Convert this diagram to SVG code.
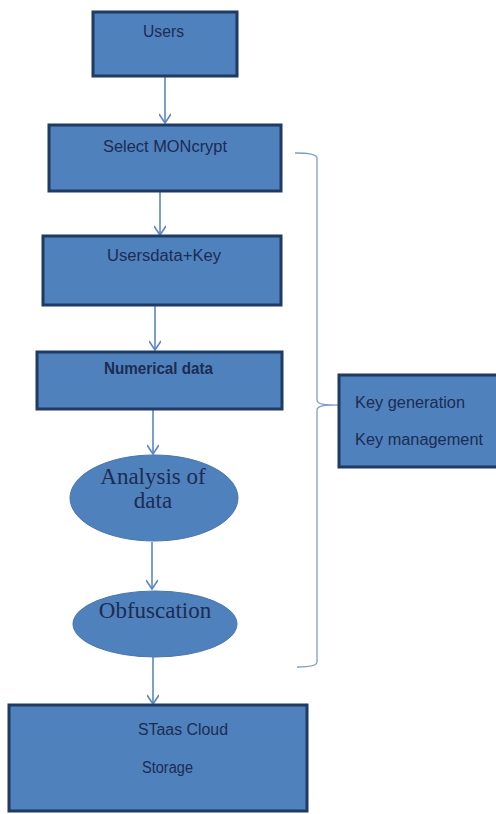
<svg xmlns="http://www.w3.org/2000/svg" width="496" height="814" viewBox="0 0 496 814">
<style>
.box{fill:#4f81bd;stroke:#1f3a63;stroke-width:3}
.ell{fill:#4f81bd;stroke:#4a76ad;stroke-width:1}
.t{font-family:"Liberation Sans",Arial,sans-serif;font-size:16px;fill:#1c2c52}
.s{font-family:"Liberation Serif","Times New Roman",serif;font-size:23px;fill:#1c2c52;text-anchor:middle}
.c{fill:none;stroke:#5b86c2;stroke-width:1.6}
.br{fill:none;stroke:#7f9cc7;stroke-width:1.3}
</style>
<defs>
<marker id="ah" markerWidth="14" markerHeight="12" refX="10" refY="6" orient="auto" markerUnits="userSpaceOnUse">
<path d="M1,0 L10,6 L1,12" fill="none" stroke="#5b86c2" stroke-width="1.6"/>
</marker>
</defs>
<g id="connectors">
<line class="c" x1="165" y1="77" x2="165" y2="123" marker-end="url(#ah)"/>
<line class="c" x1="160" y1="192" x2="160" y2="235" marker-end="url(#ah)"/>
<line class="c" x1="155" y1="306" x2="155" y2="350" marker-end="url(#ah)"/>
<line class="c" x1="153" y1="410" x2="153" y2="454" marker-end="url(#ah)"/>
<line class="c" x1="152" y1="542" x2="152" y2="589" marker-end="url(#ah)"/>
<line class="c" x1="153" y1="657" x2="153" y2="704" marker-end="url(#ah)"/>
<path class="br" d="M295,153 Q317,153 317,158 L317,400 Q317,405 333,405 Q317,405 317,410 L317,662 Q317,667 297,667"/>
<line class="br" x1="333" y1="405" x2="339" y2="405"/>
</g>
<g id="users">
<rect class="box" x="93" y="12" width="144" height="64"/>
<text class="t" x="143" y="37" textLength="41" lengthAdjust="spacingAndGlyphs">Users</text>
</g>
<g id="select">
<rect class="box" x="49" y="125" width="232" height="66"/>
<text class="t" x="103" y="152" textLength="124" lengthAdjust="spacingAndGlyphs">Select MONcrypt</text>
</g>
<g id="usersdata">
<rect class="box" x="43" y="236" width="238" height="69"/>
<text class="t" x="107" y="261" textLength="114" lengthAdjust="spacingAndGlyphs">Usersdata+Key</text>
</g>
<g id="numerical">
<rect class="box" x="37" y="352" width="245" height="57"/>
<text class="t" x="104" y="374" textLength="109" lengthAdjust="spacingAndGlyphs" font-weight="bold">Numerical data</text>
</g>
<g id="analysis">
<ellipse class="ell" cx="154" cy="498" rx="84" ry="43"/>
<text class="s" x="153" y="484">Analysis of</text>
<text class="s" x="153" y="508">data</text>
</g>
<g id="obfuscation">
<ellipse class="ell" cx="155" cy="624" rx="82" ry="33"/>
<text class="s" x="155" y="618">Obfuscation</text>
</g>
<g id="staas">
<rect class="box" x="9" y="705" width="298" height="106"/>
<text class="t" x="138" y="735" textLength="90" lengthAdjust="spacingAndGlyphs">STaas Cloud</text>
<text class="t" x="142" y="773" textLength="51" lengthAdjust="spacingAndGlyphs">Storage</text>
</g>
<g id="keybox">
<rect class="box" x="339" y="375" width="160" height="92"/>
<text class="t" x="355" y="408" textLength="110" lengthAdjust="spacingAndGlyphs">Key generation</text>
<text class="t" x="355" y="445" textLength="128" lengthAdjust="spacingAndGlyphs">Key management</text>
</g>
</svg>
